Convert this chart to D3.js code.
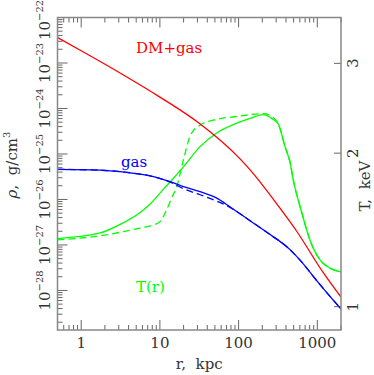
<!DOCTYPE html>
<html>
<head>
<meta charset="utf-8">
<script src="https://cdn.jsdelivr.net/npm/d3@7"></script>
<style>
  body { margin: 0; background: #fff; }
</style>
</head>
<body>
<div id="chart"></div>
<script>
// density profiles (g/cm^3) and temperature (keV) vs radius (kpc)

var rTot = [0.5, 1, 3.16, 10, 31.6, 100, 140, 316, 547, 1191, 2000];
var rhoTot = [3.63e-23, 1.86e-23, 5.96e-24, 1.78e-24, 4.73e-25, 8.4e-26, 4.47e-26, 7.4e-27, 2.0e-27, 2.45e-28, 7.1e-29];

var rGas = [0.5, 1.74, 5.61, 7.52, 13.5, 19.9, 32.4, 52.8, 78, 140, 228, 450, 600, 1000, 1449, 2000];
var rhoGas = [4.6e-26, 4.4e-26, 3.6e-26, 3.3e-26, 2.46e-26, 1.91e-26, 1.48e-26, 1.07e-26, 6.85e-27, 3.4e-27, 1.9e-27, 7.9e-28, 4.7e-28, 1.58e-28, 7.4e-29, 3.9e-29];
var rhoGasDash = [4.6e-26, 4.4e-26, 3.6e-26, 3.3e-26, 2.4e-26, 1.72e-26, 1.27e-26, 9.2e-27, 6.7e-27, 3.4e-27, 1.9e-27, 7.9e-28, 4.7e-28, 1.58e-28, 7.4e-29, 3.9e-29];

var rT = [0.5, 1.74, 3.13, 5.61, 7.52, 11.1, 14.1, 19.9, 32.4, 52.8, 94.8, 140, 206, 264, 320, 389, 450, 496, 634, 808, 1082, 1449, 2000];
var tSolid = [1.36, 1.395, 1.45, 1.53, 1.59, 1.70, 1.77, 1.88, 2.06, 2.19, 2.29, 2.34, 2.38, 2.34, 2.28, 2.06, 1.92, 1.77, 1.53, 1.35, 1.235, 1.19, 1.17];

var rTd = [0.5, 1.74, 5.61, 7.52, 10, 12.2, 14, 16.4, 19.9, 24.2, 32.4, 52.8, 94.8, 206, 264, 320, 389, 450, 496, 634, 808, 1082, 1449, 2000];
var tDash = [1.352, 1.377, 1.426, 1.44, 1.467, 1.55, 1.63, 1.72, 1.94, 2.16, 2.27, 2.33, 2.36, 2.39, 2.36, 2.28, 2.06, 1.92, 1.77, 1.53, 1.35, 1.235, 1.19, 1.17];

var xTicks = [1, 10, 100, 1000];
var rhoExp = [-22, -23, -24, -25, -26, -27, -28];
var tTicks = [1, 2, 3];

var W = 374, H = 375;
var pLeft = 57.5, pRight = 341, pTop = 17.5, pBottom = 330;
var serif = "DejaVu Serif";

var svg = d3.select("#chart").append("svg")
	.attr("width", W)
	.attr("height", H)
	.style("font-family", serif);

var x = d3.scaleLog().domain([0.5, 2000]).range([pLeft, pRight]);
var y = d3.scaleLog().domain([1.35e-29, 1e-22]).range([pBottom, pTop]);
var yT = d3.scaleLog().domain([0.9, 3.69]).range([pBottom, pTop]);

var tickCol = "#666";
var textCol = "#333";
var fs = 15;

// minor ticks for log axes
function logMinor(lo, hi) {
	var out = [];
	for (var e = Math.floor(Math.log10(lo)); e <= Math.ceil(Math.log10(hi)); e++) {
		for (var k = 1; k < 10; k++) {
			var v = k * Math.pow(10, e);
			if (v >= lo * 0.999 && v <= hi * 1.001) out.push({ v: v, major: k == 1 });
		}
	}
	return out;
}

var ticksG = svg.append("g").attr("stroke", tickCol).attr("stroke-width", 1);

// bottom + top ticks
logMinor(0.5, 2000).forEach(function (t) {
	var len = t.major ? 10 : 5;
	var px = x(t.v);
	ticksG.append("line").attr("x1", px).attr("x2", px).attr("y1", pBottom).attr("y2", pBottom - len);
	ticksG.append("line").attr("x1", px).attr("x2", px).attr("y1", pTop).attr("y2", pTop + len);
});

// left ticks (density)
logMinor(1.35e-29, 1e-22).forEach(function (t) {
	var len = t.major ? 10 : 5;
	var py = y(t.v);
	ticksG.append("line").attr("x1", pLeft).attr("x2", pLeft + len).attr("y1", py).attr("y2", py);
});

// right ticks (temperature)
tTicks.forEach(function (t) {
	var py = yT(t);
	ticksG.append("line").attr("x1", pRight).attr("x2", pRight - 7).attr("y1", py).attr("y2", py);
});

// curves
var lineRho = d3.line()
	.x(function (d) { return x(d[0]); })
	.y(function (d) { return y(d[1]); })
	.curve(d3.curveMonotoneX);
var lineT = d3.line()
	.x(function (d) { return x(d[0]); })
	.y(function (d) { return yT(d[1]); })
	.curve(d3.curveMonotoneX);

svg.append("clipPath").attr("id", "clip")
	.append("rect").attr("x", pLeft).attr("y", pTop).attr("width", pRight - pLeft).attr("height", pBottom - pTop);

var plot = svg.append("g").attr("clip-path", "url(#clip)").attr("fill", "none").attr("stroke-width", 1.3);

plot.append("path").attr("d", lineT(d3.zip(rTd, tDash))).attr("stroke", "#00ff00").attr("stroke-dasharray", "7,4");
plot.append("path").attr("d", lineT(d3.zip(rT, tSolid))).attr("stroke", "#00ff00");
plot.append("path").attr("d", lineRho(d3.zip(rGas, rhoGasDash))).attr("stroke", "#0000ff").attr("stroke-dasharray", "7,4");
plot.append("path").attr("d", lineRho(d3.zip(rGas, rhoGas))).attr("stroke", "#0000ff");
plot.append("path").attr("d", lineRho(d3.zip(rTot, rhoTot))).attr("stroke", "#ff0000");

// frame
svg.append("rect")
	.attr("x", pLeft).attr("y", pTop)
	.attr("width", pRight - pLeft).attr("height", pBottom - pTop)
	.attr("fill", "none").attr("stroke", "#888").attr("stroke-width", 1.5);

// x tick labels
xTicks.forEach(function (t) {
	svg.append("text")
		.attr("x", x(t)).attr("y", 348)
		.attr("text-anchor", "middle")
		.attr("font-size", fs).attr("fill", textCol)
		.text(t);
});

svg.append("text")
	.attr("x", (pLeft + pRight) / 2).attr("y", 369)
	.attr("text-anchor", "middle")
	.attr("font-size", fs).attr("fill", textCol)
	.style("white-space", "pre")
	.text("r,  kpc");

// left tick labels, rotated (top one nudged so it stays on the page)
rhoExp.forEach(function (e) {
	var py = Math.max(y(Math.pow(10, e)), 20);
	var t = svg.append("text")
		.attr("transform", "translate(50," + py + ") rotate(-90)")
		.attr("text-anchor", "middle")
		.attr("font-size", fs).attr("fill", textCol);
	t.append("tspan").text("10");
	t.append("tspan").attr("font-size", 10).attr("dy", -7).text("\u2212" + (-e));
});

var yl = svg.append("text")
	.attr("transform", "translate(17,165) rotate(-90)")
	.attr("text-anchor", "middle")
	.attr("font-size", fs).attr("fill", textCol)
	.style("white-space", "pre");
yl.append("tspan").attr("font-style", "italic").text("\u03c1");
yl.append("tspan").text(",  g/cm");
yl.append("tspan").attr("font-size", 10).attr("dy", -7).text("3");

// right tick labels
tTicks.forEach(function (t) {
	svg.append("text")
		.attr("transform", "translate(358," + yT(t) + ") rotate(-90)")
		.attr("text-anchor", "middle")
		.attr("font-size", fs).attr("fill", textCol)
		.text(t);
});

svg.append("text")
	.attr("transform", "translate(370,186) rotate(-90)")
	.attr("text-anchor", "middle")
	.attr("font-size", fs).attr("fill", textCol)
	.style("white-space", "pre")
	.text("T,  keV");

// curve labels
svg.append("text").attr("x", 136).attr("y", 53).attr("font-size", fs).attr("fill", "#ff0000").text("DM+gas");
svg.append("text").attr("x", 121).attr("y", 167).attr("font-size", fs).attr("fill", "#0000ff").text("gas");
svg.append("text").attr("x", 136).attr("y", 292).attr("font-size", fs).attr("fill", "#00ff00").text("T(r)");
</script>
</body>
</html>
